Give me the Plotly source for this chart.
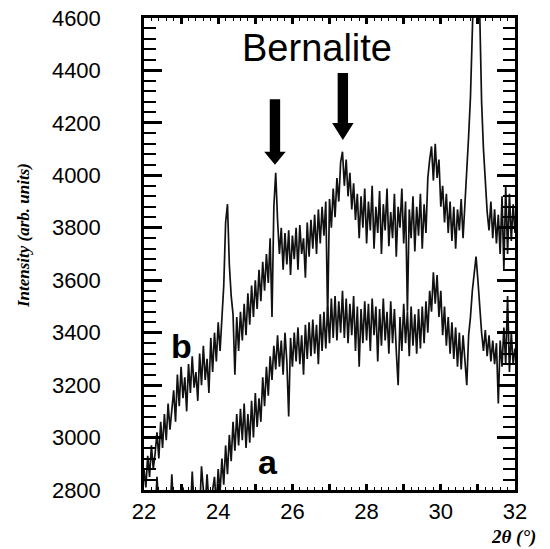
import plotly.graph_objects as go

# ---- data ----
two_theta_start = 22.0
two_theta_step = 0.05

intensity_b = [
    2880, 2810, 2930, 2850, 2970, 2880, 2940, 3020, 2920, 3060,
    2960, 3090, 2990, 3130, 3030, 3100, 3180, 3060, 3240, 3120,
    3270, 3150, 3230, 3100, 3280, 3170, 3310, 3190, 3250, 3140,
    3320, 3200, 3350, 3220, 3300, 3170, 3380, 3250, 3400, 3290,
    3440, 3330, 3480, 3580, 3820, 3890, 3660, 3540, 3470, 3240,
    3460, 3330, 3480, 3370, 3510, 3390, 3550, 3430, 3580, 3460,
    3600, 3490, 3640, 3520, 3670, 3560, 3700, 3590, 3760, 3460,
    3880, 4010, 3830, 3700, 3800, 3640, 3780, 3660, 3790, 3620,
    3770, 3680, 3800, 3640, 3810, 3700, 3760, 3610, 3820, 3690,
    3830, 3720, 3850, 3700, 3870, 3740, 3880, 3770, 3900, 3450,
    3910, 3800, 3950, 3840, 3990, 3900, 4050, 4090, 3960, 4060,
    3920, 4010, 3870, 3970, 3830, 3930, 3760, 3920, 3800, 3950,
    3740, 3900, 3790, 3960, 3720, 3880, 3780, 3940, 3700, 3890,
    3790, 3950, 3730, 3860, 3760, 3930, 3690, 3880, 3800, 3950,
    3740, 3900, 3480, 3870, 3760, 3920, 3710, 3880, 3770, 3930,
    3720, 3890, 3780, 3990, 4060, 4110, 3980, 4120, 3990, 4060,
    3880, 3960, 3820, 3930, 3780, 3900, 3750, 3880, 3720, 3870,
    3790, 3910, 3760, 3880, 4000, 4150, 4300, 4650, 4950, 5050,
    4950, 4600, 4280, 4100, 3970, 3860, 3790, 3900, 3760, 3870,
    3740, 3850, 3700, 3920, 3640, 3960, 3700, 3930, 3750, 3890,
    3780,
]

intensity_a = [
    2760, 2700, 2790, 2720, 2680, 2800, 2710, 2850, 2730, 2690,
    2780, 2720, 2680, 2760, 2700, 2860, 2720, 2790, 2690, 2750,
    2710, 2810, 2720, 2680, 2770, 2710, 2870, 2740, 2700, 2800,
    2720, 2890, 2800, 2740, 2860, 2750, 2710, 2800, 2850, 2740,
    2880, 2790, 2920, 2820, 2970, 2860, 3010, 2910, 3060, 2950,
    3090, 2970, 3110, 2990, 3130, 2960, 3090, 2980, 3140, 3000,
    3170, 3040, 3150, 3060, 3230, 3120, 3270, 3160, 3310, 3220,
    3350, 3260, 3390, 3270, 3370, 3240, 3400, 3290, 3080, 3380,
    3270, 3400, 3290, 3420, 3280, 3390, 3240, 3430, 3300, 3440,
    3310, 3450, 3320, 3430, 3280, 3470, 3330, 3480, 3340, 3500,
    3360, 3530, 3380, 3540, 3370, 3520, 3400, 3560, 3380, 3530,
    3360, 3510, 3390, 3540, 3330, 3500, 3270, 3490, 3360, 3520,
    3370, 3510, 3330, 3530, 3390, 3500, 3290, 3490, 3350, 3530,
    3370, 3480, 3320, 3520, 3360, 3490, 3330, 3200, 3460, 3330,
    3510, 3360, 3480, 3310, 3500, 3350, 3470, 3320, 3490, 3340,
    3500, 3360, 3520, 3400, 3560, 3480, 3630, 3510, 3620, 3460,
    3560, 3390, 3500, 3350, 3460, 3320, 3440, 3300, 3420, 3270,
    3400, 3260, 3390, 3310, 3200, 3390, 3460, 3560, 3630, 3690,
    3600, 3480, 3400, 3330, 3410, 3310, 3390, 3290, 3370, 3280,
    3360, 3130, 3370, 3270, 3420, 3280, 3540, 3250, 3400, 3280,
    3340,
]

x_ticks = [22, 23, 24, 25, 26, 27, 28, 29, 30, 31, 32]
x_tick_labels = ["22", "", "24", "", "26", "", "28", "", "30", "", "32"]
y_ticks = [2800, 3000, 3200, 3400, 3600, 3800, 4000, 4200, 4400, 4600]

# annotation settings
arrow_x = [25.53, 27.36]
arrow_top = [4290, 4390]
arrow_head_start = [4090, 4200]
arrow_tip = [4040, 4135]

two_theta_b = [round(two_theta_start + i * two_theta_step, 3) for i in range(len(intensity_b))]
two_theta_a = [round(two_theta_start + i * two_theta_step, 3) for i in range(len(intensity_a))]

fig = go.Figure()
fig.add_trace(go.Scatter(x=two_theta_b, y=intensity_b, mode="lines",
                         line=dict(color="#111111", width=1.7), name="b", showlegend=False))
fig.add_trace(go.Scatter(x=two_theta_a, y=intensity_a, mode="lines",
                         line=dict(color="#111111", width=1.7), name="a", showlegend=False))

# arrows (filled shaft + head) as shapes in data coordinates
shaft_half = 0.14
head_half = 0.29
for xc, yt, yh, ytip in zip(arrow_x, arrow_top, arrow_head_start, arrow_tip):
    path = (f"M {xc-shaft_half},{yt} L {xc+shaft_half},{yt} L {xc+shaft_half},{yh} "
            f"L {xc+head_half},{yh} L {xc},{ytip} L {xc-head_half},{yh} "
            f"L {xc-shaft_half},{yh} Z")
    fig.add_shape(type="path", path=path, xref="x", yref="y",
                  fillcolor="black", line=dict(color="black", width=0))

label_font = dict(family="Liberation Sans, Arial, sans-serif", color="black")
fig.add_annotation(text="Bernalite", x=26.65, y=4485, xref="x", yref="y",
                   showarrow=False, font=dict(size=38, **label_font))
fig.add_annotation(text="<b>b</b>", x=23.0, y=3350, xref="x", yref="y",
                   showarrow=False, font=dict(size=34, **label_font))
fig.add_annotation(text="<b>a</b>", x=25.35, y=2905, xref="x", yref="y",
                   showarrow=False, font=dict(size=34, **label_font))

serif = "Liberation Serif, Times New Roman, serif"
fig.add_annotation(text="<b><i>Intensity (arb. units)</i></b>", xref="paper", yref="paper",
                   x=-0.326, y=0.538, xanchor="center", yanchor="middle",
                   textangle=-90, showarrow=False,
                   font=dict(family=serif, size=17, color="black"))
fig.add_annotation(text="<b><i>2θ (°)</i></b>", xref="paper", yref="paper",
                   x=0.93, y=-0.099, xanchor="left", yanchor="middle", showarrow=False,
                   font=dict(family=serif, size=19, color="black"))

tick_font = dict(family="Liberation Sans, Arial, sans-serif", size=22, color="black")
fig.update_xaxes(range=[22, 32], tickmode="array", tickvals=x_ticks, ticktext=x_tick_labels,
                 ticks="inside", ticklen=6, tickwidth=2.5, tickcolor="black",
                 showline=True, linewidth=2.5, linecolor="black", mirror="allticks",
                 showgrid=False, zeroline=False, tickfont=tick_font, ticklabelstandoff=0,
                 automargin=False, ticklabeloverflow="allow",
                 minor=dict(tickmode="linear", tick0=22, dtick=0.2, ticks="inside",
                            ticklen=3, tickwidth=1.2, tickcolor="black", showgrid=False))
fig.update_yaxes(range=[2800, 4600], tickmode="array", tickvals=y_ticks,
                 ticks="inside", ticklen=18, tickwidth=2.5, tickcolor="black",
                 showline=True, linewidth=2.5, linecolor="black", mirror="allticks",
                 showgrid=False, zeroline=False, tickfont=tick_font, ticklabelstandoff=36,
                 automargin=False, ticklabeloverflow="allow",
                 minor=dict(tickmode="linear", tick0=2800, dtick=40, ticks="inside",
                            ticklen=12, tickwidth=1.5, tickcolor="black", showgrid=False))

# the page adds an 8 px body margin, so the figure is made 8 px smaller
fig.update_layout(width=542, height=541, margin=dict(l=136, r=35, t=10, b=59),
                  plot_bgcolor="white", paper_bgcolor="white", showlegend=False)

fig.write_html("out.html")
